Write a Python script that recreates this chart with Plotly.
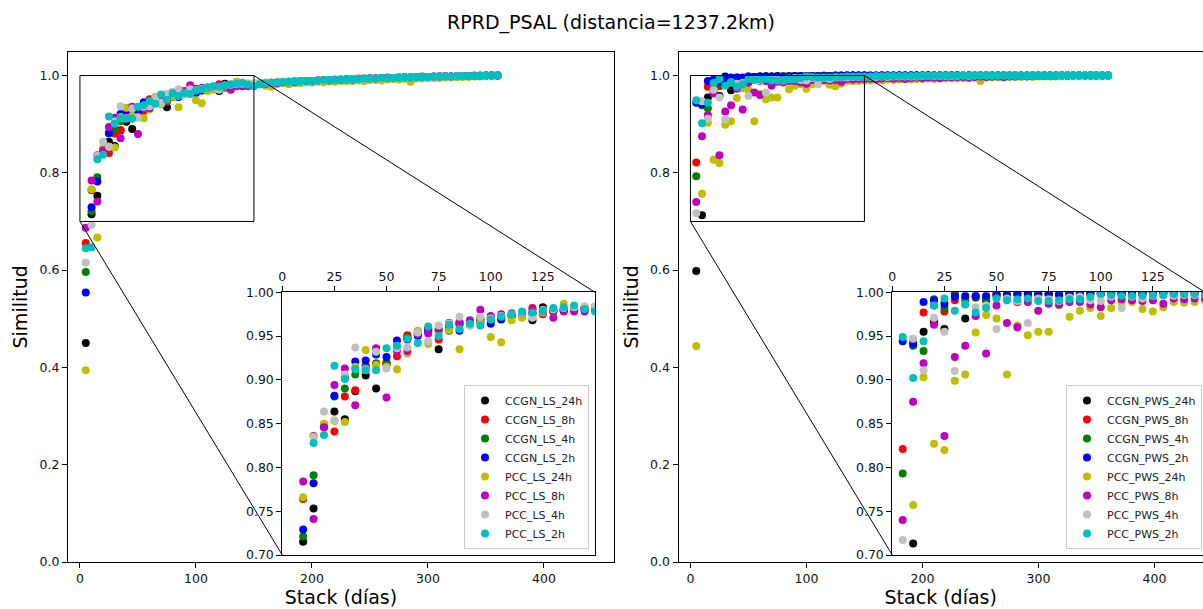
import plotly.graph_objects as go

W, H = 1203, 609

# ---------------- data ----------------
stack_days = list(range(5, 365, 5))  # 5 .. 360 days

names_ls = ["CCGN_LS_24h", "CCGN_LS_8h", "CCGN_LS_4h", "CCGN_LS_2h",
            "PCC_LS_24h", "PCC_LS_8h", "PCC_LS_4h", "PCC_LS_2h"]
names_pws = ["CCGN_PWS_24h", "CCGN_PWS_8h", "CCGN_PWS_4h", "CCGN_PWS_2h",
             "PCC_PWS_24h", "PCC_PWS_8h", "PCC_PWS_4h", "PCC_PWS_2h"]
colors = ["#000000", "#ff0000", "#008000", "#0000ff",
          "#bfbf00", "#bf00bf", "#c0c0c0", "#00bfbf"]

# --- LS series (left panel) ---
ls_ccgn_24h = [0.450, 0.715, 0.753, 0.848, 0.864, 0.855, 0.887, 0.905, 0.890, 0.918,
               0.935, 0.949, 0.955, 0.958, 0.935, 0.963, 0.965, 0.966, 0.970, 0.971,
               0.969, 0.974, 0.976, 0.968, 0.983, 0.979, 0.980, 0.980, 0.981, 0.982,
               0.983, 0.984, 0.985, 0.984, 0.986, 0.986, 0.987, 0.988, 0.987, 0.989,
               0.989, 0.990, 0.990, 0.991, 0.991, 0.992, 0.992, 0.993, 0.993, 0.993,
               0.994, 0.994, 0.995, 0.995, 0.995, 0.996, 0.996, 0.996, 0.997, 0.997,
               0.997, 0.998, 0.998, 0.998, 0.998, 0.999, 0.999, 0.999, 0.999, 1.000,
               1.000, 1.000]
ls_ccgn_8h = [0.656, 0.764, 0.836, 0.846, 0.841, 0.881, 0.888, 0.916, 0.919, 0.918,
              0.927, 0.951, 0.953, 0.956, 0.946, 0.958, 0.964, 0.965, 0.967, 0.970,
              0.972, 0.974, 0.976, 0.982, 0.975, 0.978, 0.980, 0.981, 0.982, 0.983,
              0.984, 0.985, 0.984, 0.986, 0.987, 0.986, 0.988, 0.988, 0.989, 0.989,
              0.990, 0.989, 0.991, 0.991, 0.992, 0.992, 0.993, 0.992, 0.994, 0.994,
              0.994, 0.995, 0.995, 0.995, 0.996, 0.996, 0.996, 0.997, 0.997, 0.997,
              0.998, 0.998, 0.998, 0.998, 0.999, 0.999, 0.999, 0.999, 1.000, 1.000,
              1.000, 1.000]
ls_ccgn_4h = [0.596, 0.721, 0.791, 0.849, 0.881, 0.890, 0.906, 0.916, 0.918, 0.920,
              0.936, 0.948, 0.950, 0.958, 0.955, 0.956, 0.963, 0.965, 0.969, 0.968,
              0.971, 0.973, 0.975, 0.976, 0.978, 0.979, 0.980, 0.981, 0.982, 0.983,
              0.983, 0.984, 0.985, 0.985, 0.986, 0.987, 0.987, 0.988, 0.988, 0.989,
              0.990, 0.990, 0.990, 0.991, 0.992, 0.992, 0.992, 0.993, 0.993, 0.994,
              0.994, 0.994, 0.995, 0.995, 0.996, 0.996, 0.996, 0.997, 0.997, 0.997,
              0.997, 0.998, 0.998, 0.998, 0.999, 0.999, 0.999, 0.999, 0.999, 1.000,
              1.000, 1.000]
ls_ccgn_2h = [0.554, 0.729, 0.782, 0.847, 0.882, 0.903, 0.921, 0.922, 0.929, 0.926,
              0.945, 0.946, 0.951, 0.955, 0.957, 0.960, 0.956, 0.963, 0.966, 0.964,
              0.970, 0.973, 0.975, 0.976, 0.977, 0.979, 0.979, 0.980, 0.981, 0.982,
              0.983, 0.983, 0.984, 0.985, 0.986, 0.986, 0.987, 0.987, 0.988, 0.989,
              0.989, 0.990, 0.990, 0.991, 0.991, 0.992, 0.992, 0.993, 0.993, 0.993,
              0.994, 0.994, 0.995, 0.995, 0.995, 0.996, 0.996, 0.997, 0.997, 0.997,
              0.997, 0.998, 0.998, 0.998, 0.998, 0.999, 0.999, 0.999, 0.999, 1.000,
              1.000, 1.000]
ls_pcc_24h = [0.394, 0.766, 0.667, 0.850, 0.853, 0.852, 0.915, 0.934, 0.917, 0.915,
              0.912, 0.930, 0.956, 0.941, 0.955, 0.957, 0.935, 0.962, 0.965, 0.949,
              0.943, 0.968, 0.971, 0.974, 0.977, 0.980, 0.987, 0.982, 0.983, 0.980,
              0.982, 0.979, 0.977, 0.983, 0.984, 0.982, 0.985, 0.984, 0.986, 0.985,
              0.987, 0.986, 0.988, 0.987, 0.989, 0.988, 0.989, 0.990, 0.989, 0.991,
              0.991, 0.990, 0.992, 0.993, 0.992, 0.993, 0.987, 0.994, 0.994, 0.995,
              0.995, 0.995, 0.996, 0.996, 0.997, 0.997, 0.997, 0.998, 0.998, 0.999,
              0.999, 1.000]
ls_pcc_8h = [0.687, 0.784, 0.741, 0.846, 0.894, 0.913, 0.871, 0.913, 0.936, 0.880,
             0.933, 0.933, 0.952, 0.953, 0.958, 0.965, 0.966, 0.968, 0.980, 0.973,
             0.975, 0.976, 0.977, 0.980, 0.979, 0.971, 0.978, 0.978, 0.978, 0.981,
             0.982, 0.983, 0.985, 0.984, 0.986, 0.987, 0.986, 0.988, 0.989, 0.988,
             0.990, 0.991, 0.990, 0.992, 0.991, 0.993, 0.992, 0.994, 0.993, 0.995,
             0.994, 0.995, 0.996, 0.995, 0.996, 0.997, 0.996, 0.997, 0.998, 0.997,
             0.998, 0.998, 0.999, 0.998, 0.999, 0.999, 0.999, 1.000, 0.999, 1.000,
             1.000, 1.000]
ls_pcc_4h = [0.615, 0.693, 0.835, 0.864, 0.854, 0.906, 0.937, 0.912, 0.932, 0.913,
             0.936, 0.937, 0.954, 0.944, 0.962, 0.964, 0.972, 0.962, 0.972, 0.970,
             0.973, 0.975, 0.977, 0.971, 0.980, 0.981, 0.982, 0.983, 0.984, 0.984,
             0.985, 0.985, 0.986, 0.986, 0.987, 0.987, 0.988, 0.988, 0.989, 0.989,
             0.990, 0.990, 0.991, 0.991, 0.992, 0.992, 0.993, 0.993, 0.993, 0.994,
             0.994, 0.994, 0.995, 0.995, 0.996, 0.996, 0.996, 0.997, 0.997, 0.997,
             0.998, 0.998, 0.998, 0.998, 0.999, 0.999, 0.999, 0.999, 1.000, 1.000,
             1.000, 1.000]
ls_pcc_2h = [0.645, 0.647, 0.828, 0.837, 0.916, 0.901, 0.912, 0.911, 0.911, 0.936,
             0.939, 0.947, 0.942, 0.961, 0.950, 0.963, 0.958, 0.964, 0.962, 0.969,
             0.972, 0.975, 0.978, 0.977, 0.979, 0.982, 0.983, 0.985, 0.981, 0.978,
             0.982, 0.984, 0.985, 0.986, 0.986, 0.987, 0.988, 0.988, 0.989, 0.989,
             0.990, 0.991, 0.991, 0.991, 0.992, 0.992, 0.993, 0.993, 0.994, 0.994,
             0.994, 0.995, 0.995, 0.995, 0.996, 0.996, 0.996, 0.997, 0.997, 0.997,
             0.998, 0.998, 0.998, 0.998, 0.999, 0.999, 0.999, 0.999, 1.000, 1.000,
             1.000, 1.000]

# --- PWS series (right panel) ---
pws_ccgn_24h = [0.598, 0.713, 0.955, 0.966, 0.958, 0.998, 0.970, 0.994, 0.991, 0.996,
                0.997, 0.998, 0.998, 0.998, 0.999, 0.998, 0.999, 0.999, 0.999, 0.999,
                0.999, 0.999, 0.999, 0.999, 1.000, 0.999, 1.000, 1.000, 1.000, 1.000,
                0.999, 1.000, 1.000, 1.000, 0.999, 1.000, 1.000, 1.000, 1.000, 1.000,
                1.000, 1.000, 1.000, 1.000, 1.000, 1.000, 1.000, 1.000, 1.000, 1.000,
                1.000, 1.000, 1.000, 1.000, 1.000, 1.000, 1.000, 1.000, 1.000, 1.000,
                1.000, 1.000, 1.000, 1.000, 1.000, 1.000, 1.000, 1.000, 1.000, 1.000,
                1.000, 1.000]
pws_ccgn_8h = [0.821, 0.943, 0.977, 0.985, 0.978, 0.991, 0.994, 0.996, 0.995, 0.997,
               0.996, 0.989, 0.995, 0.996, 0.997, 0.997, 0.998, 0.998, 0.998, 0.998,
               0.999, 0.998, 0.999, 0.999, 0.999, 0.999, 0.999, 1.000, 0.999, 1.000,
               0.999, 0.999, 1.000, 0.999, 1.000, 1.000, 0.999, 1.000, 1.000, 1.000,
               1.000, 1.000, 1.000, 1.000, 1.000, 1.000, 1.000, 1.000, 1.000, 1.000,
               1.000, 1.000, 1.000, 1.000, 1.000, 1.000, 1.000, 1.000, 1.000, 1.000,
               1.000, 1.000, 1.000, 1.000, 1.000, 1.000, 1.000, 1.000, 1.000, 1.000,
               1.000, 1.000]
pws_ccgn_4h = [0.793, 0.939, 0.933, 0.992, 0.982, 0.995, 0.991, 0.995, 0.993, 0.998,
               0.997, 0.998, 0.999, 0.998, 0.998, 0.999, 0.999, 0.999, 0.999, 0.999,
               0.999, 0.999, 1.000, 0.999, 1.000, 1.000, 1.000, 1.000, 1.000, 1.000,
               1.000, 0.999, 1.000, 1.000, 1.000, 1.000, 1.000, 1.000, 1.000, 1.000,
               1.000, 1.000, 1.000, 1.000, 1.000, 1.000, 1.000, 1.000, 1.000, 1.000,
               1.000, 1.000, 1.000, 1.000, 1.000, 1.000, 1.000, 1.000, 1.000, 1.000,
               1.000, 1.000, 1.000, 1.000, 1.000, 1.000, 1.000, 1.000, 1.000, 1.000,
               1.000, 1.000]
pws_ccgn_2h = [0.944, 0.941, 0.989, 0.991, 0.987, 0.995, 0.996, 0.996, 0.996, 0.998,
               0.997, 0.998, 0.998, 0.998, 0.998, 0.997, 0.998, 0.999, 0.999, 0.999,
               0.999, 0.999, 0.999, 0.999, 0.999, 1.000, 1.000, 1.000, 1.000, 1.000,
               1.000, 1.000, 1.000, 1.000, 1.000, 1.000, 1.000, 1.000, 1.000, 1.000,
               1.000, 1.000, 1.000, 1.000, 1.000, 1.000, 1.000, 1.000, 1.000, 1.000,
               1.000, 1.000, 1.000, 1.000, 1.000, 1.000, 1.000, 1.000, 1.000, 1.000,
               1.000, 1.000, 1.000, 1.000, 1.000, 1.000, 1.000, 1.000, 1.000, 1.000,
               1.000, 1.000]
pws_pcc_24h = [0.444, 0.757, 0.903, 0.827, 0.820, 0.899, 0.906, 0.954, 0.974, 0.970,
               0.906, 0.962, 0.951, 0.955, 0.955, 0.985, 0.972, 0.979, 0.982, 0.973,
               0.982, 0.988, 0.989, 0.981, 0.978, 0.983, 0.989, 0.988, 0.989, 0.990,
               0.990, 0.991, 0.990, 0.992, 0.991, 0.992, 0.993, 0.992, 0.993, 0.993,
               0.994, 0.993, 0.994, 0.994, 0.995, 0.994, 0.995, 0.995, 0.996, 0.989,
               0.996, 0.996, 0.997, 0.996, 0.997, 0.997, 0.997, 0.998, 0.997, 0.998,
               0.998, 0.998, 0.998, 0.999, 0.999, 0.999, 0.999, 0.999, 1.000, 1.000,
               1.000, 1.000]
pws_pcc_8h = [0.740, 0.875, 0.919, 0.963, 0.836, 0.926, 0.939, 0.973, 0.930, 0.985,
              0.965, 0.960, 0.989, 0.979, 0.987, 0.986, 0.989, 0.989, 0.986, 0.983,
              0.991, 0.992, 0.991, 0.990, 0.991, 0.987, 0.993, 0.992, 0.993, 0.993,
              0.994, 0.993, 0.994, 0.995, 0.994, 0.995, 0.993, 0.995, 0.996, 0.995,
              0.996, 0.996, 0.995, 0.997, 0.996, 0.997, 0.997, 0.996, 0.997, 0.998,
              0.997, 0.998, 0.998, 0.997, 0.998, 0.998, 0.999, 0.998, 0.999, 0.999,
              0.999, 0.999, 0.999, 1.000, 0.999, 1.000, 1.000, 1.000, 1.000, 1.000,
              1.000, 1.000]
pws_pcc_4h = [0.717, 0.947, 0.911, 0.971, 0.955, 0.910, 0.986, 0.983, 0.985, 0.958,
              0.993, 0.990, 0.965, 0.993, 0.992, 0.990, 0.994, 0.995, 0.991, 0.990,
              0.995, 0.982, 0.995, 0.993, 0.996, 0.996, 0.996, 0.997, 0.997, 0.997,
              0.997, 0.997, 0.998, 0.997, 0.998, 0.998, 0.998, 0.998, 0.998, 0.999,
              0.999, 0.999, 0.999, 0.999, 0.999, 0.999, 1.000, 0.999, 1.000, 1.000,
              1.000, 1.000, 1.000, 1.000, 1.000, 1.000, 1.000, 1.000, 1.000, 1.000,
              1.000, 1.000, 1.000, 1.000, 1.000, 1.000, 1.000, 1.000, 1.000, 1.000,
              1.000, 1.000]
pws_pcc_2h = [0.949, 0.902, 0.944, 0.985, 0.993, 0.979, 0.986, 0.977, 0.982, 0.993,
              0.991, 0.992, 0.993, 0.990, 0.990, 0.991, 0.992, 0.992, 0.995, 0.998,
              0.997, 0.996, 0.996, 0.996, 0.997, 0.997, 0.998, 0.998, 0.998, 0.998,
              0.998, 0.999, 0.998, 0.999, 0.999, 0.999, 0.999, 0.999, 0.999, 1.000,
              0.999, 1.000, 1.000, 1.000, 1.000, 1.000, 1.000, 1.000, 1.000, 1.000,
              1.000, 1.000, 1.000, 1.000, 1.000, 1.000, 1.000, 1.000, 1.000, 1.000,
              1.000, 1.000, 1.000, 1.000, 1.000, 1.000, 1.000, 1.000, 1.000, 1.000,
              1.000, 1.000]

ls_series = [ls_ccgn_24h, ls_ccgn_8h, ls_ccgn_4h, ls_ccgn_2h,
             ls_pcc_24h, ls_pcc_8h, ls_pcc_4h, ls_pcc_2h]
pws_series = [pws_ccgn_24h, pws_ccgn_8h, pws_ccgn_4h, pws_ccgn_2h,
              pws_pcc_24h, pws_pcc_8h, pws_pcc_4h, pws_pcc_2h]

main_xticks = [0, 100, 200, 300, 400]
main_yticks = [0.0, 0.2, 0.4, 0.6, 0.8, 1.0]
inset_xticks = [0, 25, 50, 75, 100, 125]
inset_yticks = [0.70, 0.75, 0.80, 0.85, 0.90, 0.95, 1.00]
zoom_x = [0, 150]
zoom_y = [0.70, 1.00]

# ---------------- layout geometry (pixels -> paper) ----------------
FONT = "DejaVu Sans"
PX_PER_DAY = 1.16
mainL_dom_x = [68 / W, 614 / W]
mainR_dom_x = [678.5 / W, 1.0]
main_dom_y = [1 - 562 / H, 1 - 51.7 / H]
mainL_range_x = [-10.3, -10.3 + 546 / PX_PER_DAY]
mainR_range_x = [-10.3, -10.3 + (W - 678.5) / PX_PER_DAY]
main_range_y = [0.0, 1.049]

insL_dom_x = [282.3 / W, 595 / W]
insR_dom_x = [892.3 / W, 1.0]
ins_dom_y = [1 - 555 / H, 1 - 292.3 / H]
ins_px_per_day = (595 - 282.3) / 150.0
insL_range_x = [0, 150]
insR_range_x = [0, (W - 892.3) / ins_px_per_day]


def paper_to_data(p, dom, rng):
    return rng[0] + (p - dom[0]) / (dom[1] - dom[0]) * (rng[1] - rng[0])


fig = go.Figure()

panels = [
    dict(names=names_ls, series=ls_series, xa="x", ya="y", xi="x2", yi="y2", leg="legend"),
    dict(names=names_pws, series=pws_series, xa="x3", ya="y3", xi="x4", yi="y4", leg="legend2"),
]

for p in panels:
    for name, vals, col in zip(p["names"], p["series"], colors):
        fig.add_trace(go.Scatter(x=stack_days, y=vals, mode="markers", name=name,
                                 marker=dict(color=col, size=8, line=dict(width=0)),
                                 xaxis=p["xa"], yaxis=p["ya"], showlegend=False))
    for name, vals, col in zip(p["names"], p["series"], colors):
        fig.add_trace(go.Scatter(x=stack_days, y=vals, mode="markers", name=name,
                                 marker=dict(color=col, size=8, line=dict(width=0)),
                                 xaxis=p["xi"], yaxis=p["yi"], showlegend=True,
                                 legend=p["leg"]))

axis_common = dict(showgrid=False, zeroline=False, showline=True, linecolor="black",
                   linewidth=1, ticks="outside", ticklen=5, tickwidth=1, tickcolor="black",
                   automargin=False,
                   tickfont=dict(family=FONT, size=12.5, color="#111"))
title_font = dict(family=FONT, size=19, color="black")

fig.update_layout(
    width=W, height=H, margin=dict(l=0, r=0, t=0, b=0, autoexpand=False),
    paper_bgcolor="white", plot_bgcolor="white",
    title=dict(text="RPRD_PSAL (distancia=1237.2km)", x=611 / W, y=1 - 22 / H,
               xanchor="center", yanchor="middle", font=dict(family=FONT, size=19, color="black")),
    xaxis=dict(domain=mainL_dom_x, range=mainL_range_x, tickvals=main_xticks, mirror=True,
               anchor="y", title=dict(text="Stack (días)", font=title_font, standoff=4),
               **axis_common),
    yaxis=dict(domain=main_dom_y, range=main_range_y, tickvals=main_yticks, tickformat=".1f",
               mirror=True, anchor="x", title=dict(text="Similitud", font=title_font, standoff=6),
               **axis_common),
    xaxis2=dict(domain=insL_dom_x, range=insL_range_x, tickvals=inset_xticks, side="top",
                mirror=True, anchor="y2", **axis_common),
    yaxis2=dict(domain=ins_dom_y, range=zoom_y, tickvals=inset_yticks, tickformat=".2f",
                mirror=True, anchor="x2", **axis_common),
    xaxis3=dict(domain=mainR_dom_x, range=mainR_range_x, tickvals=main_xticks, mirror=True,
                anchor="y3", title=dict(text="Stack (días)", font=title_font, standoff=4),
                **axis_common),
    yaxis3=dict(domain=main_dom_y, range=main_range_y, tickvals=main_yticks, tickformat=".1f",
                mirror=False, anchor="x3", title=dict(text="Similitud", font=title_font, standoff=6),
                **axis_common),
    xaxis4=dict(domain=insR_dom_x, range=insR_range_x, tickvals=inset_xticks, side="top",
                mirror=True, anchor="y4", **axis_common),
    yaxis4=dict(domain=ins_dom_y, range=zoom_y, tickvals=inset_yticks, tickformat=".2f",
                mirror=False, anchor="x4", **axis_common),
    legend=dict(x=589 / W, y=1 - 549 / H, xanchor="right", yanchor="bottom",
                bgcolor="rgba(255,255,255,0.85)", bordercolor="#cccccc", borderwidth=1,
                font=dict(family=FONT, size=11, color="#222")),
    legend2=dict(x=1202 / W, y=1 - 549 / H, xanchor="right", yanchor="bottom",
                 bgcolor="rgba(255,255,255,0.85)", bordercolor="#cccccc", borderwidth=1,
                 font=dict(family=FONT, size=11, color="#222")),
    showlegend=True,
)

# zoom rectangles and connector lines (inset corners converted into main-axis data units)
for xa, ya, mdom, mrng, idom in [("x", "y", mainL_dom_x, mainL_range_x, insL_dom_x),
                                 ("x3", "y3", mainR_dom_x, mainR_range_x, insR_dom_x)]:
    fig.add_shape(type="rect", xref=xa, yref=ya, x0=zoom_x[0], x1=zoom_x[1],
                  y0=zoom_y[0], y1=zoom_y[1], line=dict(color="black", width=1))
    ins_left = paper_to_data(idom[0], mdom, mrng)
    ins_right_px = idom[0] + (150 * ins_px_per_day) / W
    ins_right = paper_to_data(ins_right_px, mdom, mrng)
    ins_bottom = paper_to_data(ins_dom_y[0], main_dom_y, main_range_y)
    ins_top = paper_to_data(ins_dom_y[1], main_dom_y, main_range_y)
    fig.add_shape(type="line", xref=xa, yref=ya, x0=zoom_x[0], y0=zoom_y[0],
                  x1=ins_left, y1=ins_bottom, line=dict(color="black", width=1))
    fig.add_shape(type="line", xref=xa, yref=ya, x0=zoom_x[1], y0=zoom_y[1],
                  x1=ins_right, y1=ins_top, line=dict(color="black", width=1))

fig.write_html("out.html", config={"displayModeBar": False},
               post_script="document.body.style.margin='0';document.body.style.overflow='hidden';")
